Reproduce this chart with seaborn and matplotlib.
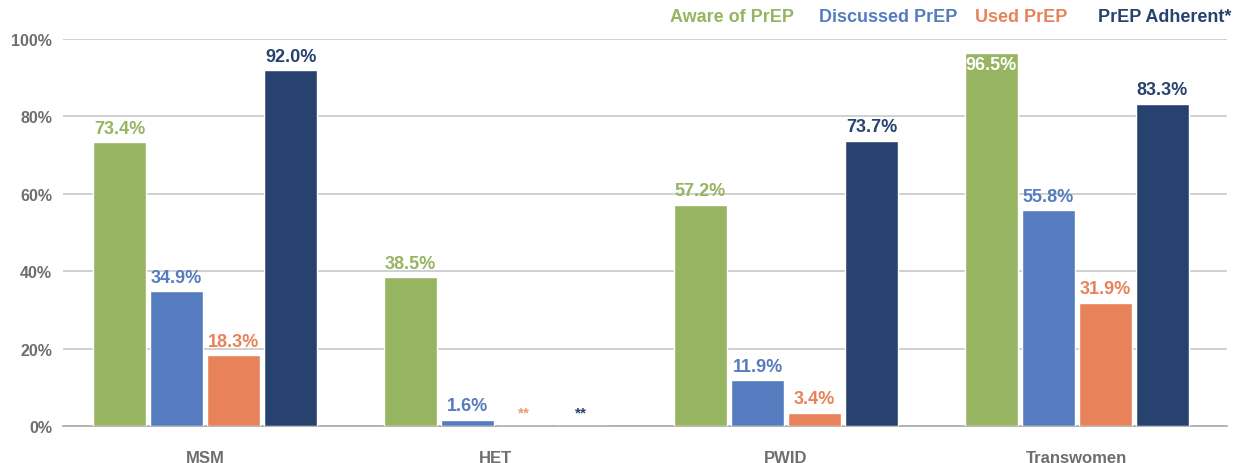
import numpy as np
import pandas as pd
import seaborn as sns
from matplotlib import pyplot as plt

groups = ["MSM", "HET", "PWID", "Transwomen"]
series = ["Aware of PrEP", "Discussed PrEP", "Used PrEP", "PrEP Adherent*"]
aware = [73.4, 38.5, 57.2, 96.5]
discussed = [34.9, 1.6, 11.9, 55.8]
used = [18.3, np.nan, 3.4, 31.9]
adherent = [92.0, np.nan, 73.7, 83.3]
colors = ["#97B462", "#557CBE", "#E8825A", "#27426F"]
yticks = [0, 20, 40, 60, 80, 100]

sns.set_theme(style="white")
plt.rcParams["font.family"] = ["Liberation Sans", "DejaVu Sans"]
plt.rcParams["font.weight"] = "bold"

df = pd.DataFrame({"group": groups, series[0]: aware, series[1]: discussed,
                   series[2]: used, series[3]: adherent})
long = df.melt(id_vars="group", var_name="series", value_name="value")
long["plot"] = long["value"].fillna(0)

fig = plt.figure(figsize=(12.36, 4.64), dpi=100)
ax = fig.add_axes([63 / 1236, 1 - 427 / 464, 1164 / 1236, 387 / 464])

sns.barplot(data=long, x="group", y="plot", hue="series", order=groups,
            hue_order=series, palette=colors, width=0.785, gap=0.07,
            saturation=1, ax=ax, legend=False, zorder=3)

ax.set_ylim(0, 100)
ax.set_xlim(-0.489, 3.518)
ax.set_yticks(yticks)
ax.set_yticklabels([f"{t}%" for t in yticks], color="#6E6E6E", fontsize=11.5)
ax.yaxis.grid(True, color="#C8C8C8", linewidth=1.2, zorder=0)
ax.set_axisbelow(True)
ax.tick_params(axis="y", length=0, pad=8)
ax.tick_params(axis="x", length=0, pad=17)
for lab in ax.get_xticklabels():
    lab.set_color("#6E6E6E")
    lab.set_fontsize(12)
ax.set_xlabel("")
ax.set_ylabel("")
for s in ["top", "right", "left"]:
    ax.spines[s].set_visible(False)
ax.spines["bottom"].set_color("#AAAAAA")
ax.spines["bottom"].set_linewidth(1.2)

# value labels
for i, (container, name) in enumerate(zip(ax.containers, series)):
    vals = df[name].tolist()
    for bar, v in zip(container, vals):
        x = bar.get_x() + bar.get_width() / 2
        if np.isnan(v):
            ax.text(x, 3.5, "**", ha="center", va="center", color=colors[i],
                    fontsize=11, alpha=0.8 if i == 2 else 1)
            continue
        y = v + 3.6
        col = colors[i]
        if y > 98:
            y = v - 3.2
            col = "white"
        ax.text(x, y, f"{v:.1f}%", ha="center", va="center", color=col,
                fontsize=13)

# colored text legend
legend_x = [670, 819, 975, 1098]
for name, c, lx in zip(series, colors, legend_x):
    fig.text(lx / 1236, 1 - 17 / 464, name, color=c, fontsize=13,
             ha="left", va="center")

fig.savefig("out.png", dpi=100)
